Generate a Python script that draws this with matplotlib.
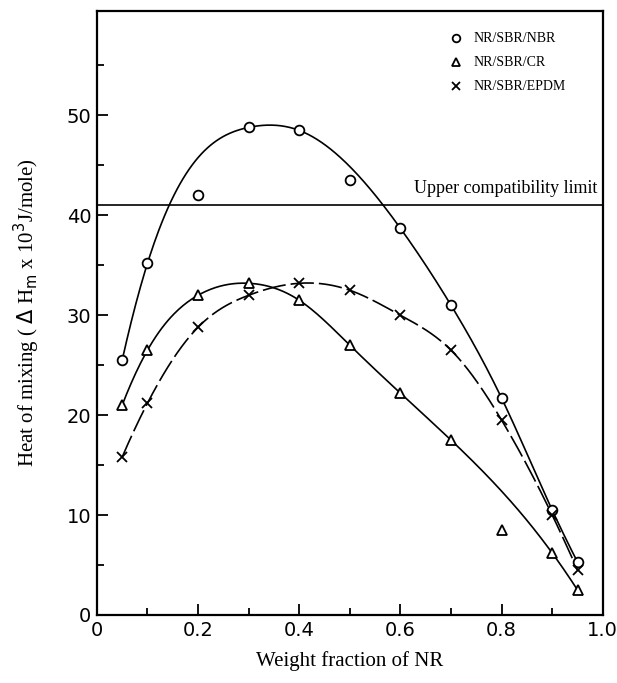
import matplotlib
matplotlib.use("Agg")
import matplotlib.pyplot as plt
import numpy as np

# weight fraction of NR
x = [0.05, 0.1, 0.2, 0.3, 0.4, 0.5, 0.6, 0.7, 0.8, 0.9, 0.95]

# heat of mixing (x 10^3 J/mole)
nbr = [25.5, 35.2, 42.0, 48.8, 48.5, 43.5, 38.7, 31.0, 21.7, 10.5, 5.3]
cr = [21.0, 26.5, 32.0, 33.2, 31.5, 27.0, 22.2, 17.5, 8.5, 6.2, 2.5]
epdm = [15.8, 21.2, 28.8, 32.0, 33.2, 32.5, 30.0, 26.5, 19.5, 10.0, 4.5]

limit = 41.0

labels = ["NR/SBR/NBR", "NR/SBR/CR", "NR/SBR/EPDM"]

serif = "Liberation Serif"
sans = "DejaVu Sans"

fig = plt.figure(figsize=(6.17, 6.83), dpi=100)
ax = fig.add_axes([0.157, 0.0996, 0.820, 0.885])


def spline(xs, ys, n=300):
    # cubic spline through the points (parabolic run-out ends), for the guide curves
    xs = np.asarray(xs, float)
    ys = np.asarray(ys, float)
    k = len(xs)
    h = np.diff(xs)
    A = np.zeros((k, k))
    b = np.zeros(k)
    A[0, 0], A[0, 1] = 1, -1
    A[-1, -1], A[-1, -2] = 1, -1
    for i in range(1, k - 1):
        A[i, i - 1] = h[i - 1]
        A[i, i] = 2 * (h[i - 1] + h[i])
        A[i, i + 1] = h[i]
        b[i] = 3 * ((ys[i + 1] - ys[i]) / h[i] - (ys[i] - ys[i - 1]) / h[i - 1])
    c = np.linalg.solve(A, b)
    xx = np.linspace(xs[0], xs[-1], n)
    j = np.clip(np.searchsorted(xs, xx) - 1, 0, k - 2)
    t = xx - xs[j]
    bb = (ys[j + 1] - ys[j]) / h[j] - h[j] * (2 * c[j] + c[j + 1]) / 3
    dd = (c[j + 1] - c[j]) / (3 * h[j])
    return xx, ys[j] + bb * t + c[j] * t ** 2 + dd * t ** 3


def drop(vals, skip):
    return [v for i, v in enumerate(vals) if i not in skip]


# guide curves; a few scattered points lie off the drawn curves
xx, yy = spline(drop(x, [2, 5]), drop(nbr, [2, 5]))
ax.plot(xx, yy, color="black", lw=1.2, zorder=2)
xx, yy = spline(drop(x, [8]), drop(cr, [8]))
ax.plot(xx, yy, color="black", lw=1.2, zorder=2)
xx, yy = spline(x, epdm)
ax.plot(xx, yy, color="black", lw=1.2, ls=(0, (14, 3)), zorder=2)

# points
ax.plot(x, nbr, ls="none", marker="o", ms=7, mfc="white", mec="black", mew=1.3, zorder=3)
ax.plot(x, cr, ls="none", marker="^", ms=7, mfc="white", mec="black", mew=1.3, zorder=3)
ax.plot(x, epdm, ls="none", marker="x", ms=7, mec="black", mew=1.3, zorder=3)

ax.axhline(limit, color="black", lw=1.2)
ax.text(0.99, limit + 0.8, "Upper compatibility limit", ha="right", va="bottom",
        family=serif, fontsize=13)

# legend
ly = [57.7, 55.3, 52.9]
mk = ["o", "^", "x"]
for yv, m, lab in zip(ly, mk, labels):
    ax.plot([0.71], [yv], ls="none", marker=m, ms=5.5, mfc="white", mec="black", mew=1.3)
    ax.text(0.745, yv, lab, va="center", ha="left", family=serif, fontsize=10)

ax.set_xlim(0, 1.0)
ax.set_ylim(0, 60.5)
ax.set_xticks([0, 0.2, 0.4, 0.6, 0.8, 1.0])
ax.set_xticklabels(["0", "0.2", "0.4", "0.6", "0.8", "1.0"])
ax.set_xticks(np.arange(0, 1.01, 0.1), minor=True)
ax.set_yticks([0, 10, 20, 30, 40, 50])
ax.set_yticks(np.arange(0, 60, 5), minor=True)
ax.tick_params(which="both", direction="in", width=1.3)
ax.tick_params(which="major", length=8, labelsize=14, pad=4)
ax.tick_params(which="minor", length=5)
for lab in ax.get_xticklabels() + ax.get_yticklabels():
    lab.set_family(sans)
for s in ax.spines.values():
    s.set_linewidth(1.6)

ax.set_xlabel("Weight fraction of NR", family=serif, fontsize=15, labelpad=8)
ax.set_ylabel(r"Heat of mixing ( $\Delta$ H$_{\rm m}$ x 10$^3$J/mole)", family=serif,
              fontsize=15, labelpad=18)

fig.savefig("out.png", dpi=100)
